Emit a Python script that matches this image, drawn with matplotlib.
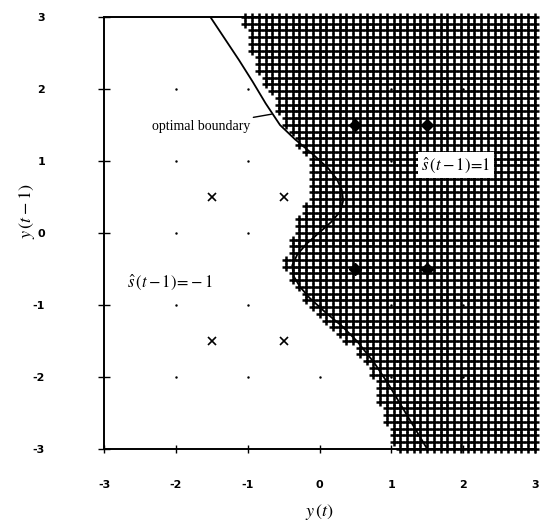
import numpy as np
import matplotlib
matplotlib.use("Agg")
import matplotlib.pyplot as plt

plt.rcParams['mathtext.fontset'] = 'stix'

# Grid of classifier outputs: rows from y=3 down to y=-3, 65x65 grid
grid_n = 65
grid_lo, grid_hi = -3.0, 3.0
# leftmost column index (0..64) of the "+" region for each row (top row first)
row_left_col = [21, 21, 22, 22, 22, 22, 23, 23, 23, 24,
                24, 25, 26, 26, 26, 27, 27, 28, 29, 29,
                30, 31, 31, 31, 31, 31, 31, 31, 30, 30,
                29, 29, 29, 28, 28, 28, 27, 27, 28, 28,
                29, 30, 30, 31, 32, 33, 34, 35, 36, 38,
                38, 39, 40, 40, 41, 41, 41, 41, 42, 42,
                42, 43, 43, 43, 44]

# optimal boundary curve
curve_y = [3.0, 2.7, 2.4, 2.1, 1.8, 1.5, 1.3, 1.1, 0.9, 0.75, 0.6, 0.45, 0.3, 0.15, 0.0,
           -0.15, -0.3, -0.45, -0.6, -0.75, -0.9, -1.1, -1.3, -1.5, -1.8, -2.1, -2.4, -2.7, -3.0]
curve_x = [-1.52, -1.32, -1.12, -0.93, -0.75, -0.55, -0.34, -0.10, 0.12, 0.24, 0.31, 0.33, 0.29, 0.16, -0.01,
           -0.18, -0.31, -0.38, -0.36, -0.27, -0.14, 0.08, 0.32, 0.52, 0.76, 0.96, 1.14, 1.32, 1.50]

# centres of the two classes
neg_x = [-1.5, -0.5, -1.5, -0.5]
neg_y = [0.5, 0.5, -1.5, -1.5]
pos_x = [0.5, 1.5, 0.5, 1.5]
pos_y = [1.5, 1.5, -0.5, -0.5]

dot_vals = [-2, -1, 0, 1, 2]
ticks = [-3, -2, -1, 0, 1, 2, 3]

fig = plt.figure(figsize=(5.42, 5.23), dpi=100)
ax = fig.add_axes([0.192, 0.1415, 0.795, 0.826])
ax.set_xlim(-3, 3)
ax.set_ylim(-3, 3)

# background dots
dx, dy = np.meshgrid(dot_vals, dot_vals)
ax.plot(dx.ravel(), dy.ravel(), '.', color='black', markersize=1.5, zorder=1)

# plus region
gv = np.linspace(grid_lo, grid_hi, grid_n)
px, py = [], []
for k, j0 in enumerate(row_left_col):
    yv = gv[::-1][k]
    for j in range(j0, grid_n):
        px.append(gv[j]); py.append(yv)
ax.plot(px, py, '+', color='black', markersize=6.4, markeredgewidth=1.8,
        linestyle='none', clip_on=False, zorder=2)

# optimal boundary
ax.plot(curve_x, curve_y, color='black', linewidth=1.3, zorder=3)

ax.plot(neg_x, neg_y, 'x', color='black', markersize=6, markeredgewidth=1.2, zorder=4)
ax.plot(pos_x, pos_y, 'D', color='black', markersize=6, zorder=4)

serif = 'Liberation Serif'
ax.annotate('optimal boundary', xy=(-0.67, 1.65), xytext=(-0.96, 1.48),
            ha='right', va='center', fontsize=10, family=serif,
            arrowprops=dict(arrowstyle='-', color='black', lw=1.0, shrinkA=0, shrinkB=0),
            zorder=5)
ax.text(1.9, 0.94, r'$\hat{s}\,(t-1)\!=\!1$', ha='center', va='center', fontsize=12,
        bbox=dict(facecolor='white', edgecolor='none', pad=2.5), zorder=6)
ax.text(-2.08, -0.69, r'$\hat{s}\,(t-1)\!=\!-1$', ha='center', va='center', fontsize=12,
        zorder=6)

ax.set_xticks(ticks)
ax.set_yticks(ticks)
ax.set_xticklabels([str(t) for t in ticks], fontsize=8, fontweight='bold')
ax.set_yticklabels([str(t) for t in ticks], fontsize=8, fontweight='bold')
ax.tick_params(axis='x', direction='inout', length=6, width=1.0, pad=19)
ax.tick_params(axis='y', direction='inout', length=9, width=1.0, pad=38)
for s in ax.spines.values():
    s.set_linewidth(1.4)
    s.set_zorder(1.5)

ax.set_xlabel(r'$y\,(t)$', fontsize=13)
ax.set_ylabel(r'$y\,(t-1)$', fontsize=13)
ax.xaxis.set_label_coords(0.5, -0.123)
ax.yaxis.set_label_coords(-0.155, 0.55)

fig.savefig('out.png', dpi=100, facecolor='white')
